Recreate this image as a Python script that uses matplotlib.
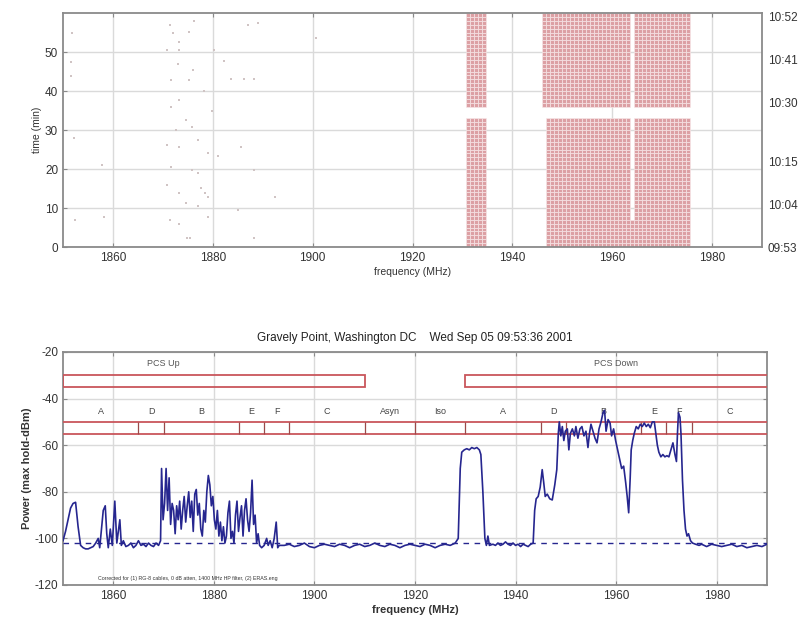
import matplotlib
matplotlib.use('Agg')
import matplotlib.pyplot as plt
import matplotlib.patches as mpatches
import numpy as np

plt.rcParams['font.family'] = ['Liberation Sans', 'DejaVu Sans']
plt.rcParams['axes.unicode_minus'] = False

# ---- top panel: occupancy blocks (freq lo, freq hi, time lo, time hi) ----
block_f_lo = [1931.0, 1931.0, 1946.5, 1946.5, 1964.2, 1946.3, 1964.2]
block_f_hi = [1934.8, 1934.8, 1975.2, 1963.2, 1975.2, 1963.2, 1975.2]
block_t_lo = [0.0, 36.5, 0.0, 7.0, 7.0, 36.5, 36.5]
block_t_hi = [32.5, 59.5, 7.0, 32.5, 32.5, 59.5, 59.5]
f_step = 0.8    # measurement resolution (MHz)
t_step = 1.0    # sweep interval (min)

# sparse detections (freq MHz, time min)
sparse_f = [1851.7, 1851.5, 1851.5, 1852.3, 1852.5, 1858.3, 1871.4, 1872.1, 1870.8,
            1873.3, 1875.3, 1876.3, 1873.3, 1873.0, 1876.0, 1871.6, 1875.3, 1873.3,
            1871.6, 1874.6, 1875.9, 1870.8, 1873.3, 1877.0, 1879.0, 1871.6, 1875.9,
            1877.0, 1870.8, 1873.3, 1877.7, 1879.0, 1874.6, 1877.0, 1871.4, 1873.3,
            1879.0, 1874.9, 1875.5, 1878.4, 1882.3, 1883.7, 1886.3, 1888.3, 1887.0,
            1889.0, 1885.7, 1888.3, 1885.0, 1892.5, 1888.3, 1881.0, 1880.3, 1900.7,
            1857.8, 1879.8, 1878.2, 1872.6]
sparse_t = [54.8, 47.5, 43.8, 27.9, 6.9, 7.8, 56.9, 54.8, 50.5,
            52.5, 55.2, 58.0, 50.5, 47.0, 45.4, 42.9, 42.9, 37.7,
            36.0, 32.6, 30.9, 26.2, 25.7, 27.5, 24.1, 20.6, 19.8,
            18.9, 15.8, 13.8, 15.1, 12.9, 11.2, 10.4, 6.9, 6.0,
            7.8, 2.2, 2.2, 13.8, 47.6, 43.0, 43.0, 43.0, 57.0,
            57.4, 25.7, 19.8, 9.5, 12.9, 2.2, 23.3, 50.5, 53.6,
            21.0, 35.0, 40.0, 30.0]

clock_pos = [0, 11, 22, 37, 48, 59]
clock_labels = ['09:53', '10:04', '10:15', '10:30', '10:41', '10:52']

# ---- bottom panel: max-hold spectrum ----
spec_f = [1850, 1850.5, 1851, 1851.5, 1852, 1852.5, 1853, 1853.5, 1854, 1854.5, 1855,
          1855.5, 1856, 1856.5, 1857, 1857.3, 1857.6, 1858, 1858.4, 1858.7, 1859, 1859.4,
          1859.8, 1860.3, 1860.7, 1861, 1861.3, 1861.6, 1862, 1862.5, 1863, 1863.5, 1864,
          1864.5, 1865, 1865.5, 1866, 1866.5, 1867, 1867.5, 1868, 1868.5, 1869, 1869.4,
          1869.6, 1869.9, 1870.2, 1870.5, 1870.8, 1871.1, 1871.4, 1871.7, 1872, 1872.3,
          1872.6, 1872.9, 1873.2, 1873.5, 1873.8, 1874.1, 1874.4, 1874.7, 1875, 1875.3,
          1875.6, 1875.9, 1876.2, 1876.5, 1876.8, 1877.1, 1877.4, 1877.7, 1878, 1878.3,
          1878.6, 1878.9, 1879.2, 1879.5, 1879.8, 1880.1, 1880.4, 1880.7, 1881, 1881.3,
          1881.6, 1881.9, 1882.2, 1882.5, 1882.8, 1883.1, 1883.4, 1883.7, 1884, 1884.3,
          1884.6, 1884.9, 1885.2, 1885.5, 1885.8, 1886.1, 1886.4, 1886.7, 1887, 1887.3,
          1887.6, 1887.9, 1888.2, 1888.5, 1888.8, 1889.1, 1889.5, 1890, 1890.5, 1890.8,
          1891.2, 1891.6, 1892, 1892.4, 1892.7, 1893,
          1894, 1895, 1896, 1897, 1898, 1899, 1900, 1901, 1902, 1903, 1904, 1905, 1906,
          1907, 1908, 1909, 1910, 1911, 1912, 1913, 1914, 1915, 1916, 1917, 1918, 1919,
          1920, 1921, 1922, 1923, 1924, 1925, 1926, 1927, 1928,
          1928.6, 1929, 1929.3, 1929.8, 1930.3, 1930.8, 1931.3, 1931.8, 1932.3, 1932.8,
          1933.1, 1933.5, 1933.9, 1934.2, 1934.5, 1934.8, 1935.5, 1936, 1936.5, 1937,
          1937.5, 1938, 1938.5, 1939, 1939.5, 1940, 1940.5, 1941, 1941.5, 1942, 1942.5,
          1943, 1943.5,
          1943.8, 1944.1, 1944.5, 1944.9, 1945.3, 1945.6, 1945.9, 1946.3, 1946.8, 1947.3,
          1947.8, 1948.2, 1948.5, 1948.7, 1949, 1949.3, 1949.6, 1949.9, 1950.3, 1950.6,
          1950.9, 1951.3, 1951.7, 1952, 1952.4, 1952.8, 1953.2, 1953.6, 1954, 1954.4,
          1954.7, 1955, 1955.4, 1955.8, 1956.2, 1956.6, 1957, 1957.4, 1957.7, 1958,
          1958.4, 1958.8, 1959.1, 1959.5, 1959.9, 1960.3, 1960.7, 1961.1, 1961.5, 1961.9,
          1962.2, 1962.5, 1962.8, 1963, 1963.3, 1963.6, 1964, 1964.4, 1964.8, 1965.2,
          1965.6, 1966, 1966.4, 1966.8, 1967.2, 1967.6, 1967.9, 1968.2, 1968.5, 1968.9,
          1969.3, 1969.7, 1970.1, 1970.5, 1970.9, 1971.3, 1971.7, 1972, 1972.2, 1972.4,
          1972.7, 1972.9, 1973.2, 1973.5, 1973.8, 1974.1, 1974.4, 1974.8,
          1975.2, 1975.8, 1976.5, 1977, 1977.5, 1978, 1978.5, 1979, 1980, 1981, 1982,
          1983, 1984, 1985, 1986, 1987, 1988, 1989, 1990]
spec_p = [-101, -97, -92, -87, -85, -84.5, -95, -103, -104, -104.5, -104.5,
          -104, -103.5, -102, -100, -104, -97, -88, -86, -98, -104, -96,
          -103, -84, -102, -97, -92, -103, -101, -103.5, -103, -102, -104,
          -103, -101, -103, -102.5, -103.5, -102, -103, -103.5, -102, -103, -101,
          -70, -92, -85, -70, -88, -74, -94, -85, -88, -98,
          -86, -92, -84, -96, -88, -82, -93, -86, -80, -91,
          -84, -97, -81, -79, -90, -85, -96, -99, -88, -93,
          -80, -73, -77, -86, -82, -92, -96, -88, -99, -93,
          -101, -95, -102, -99, -89, -84, -100, -97, -102, -90,
          -84, -97, -91, -86, -99, -88, -83, -92, -97, -89,
          -75, -94, -90, -102, -98, -103, -104, -103, -100, -103,
          -101, -104, -100, -93, -104, -103,
          -103, -102.5, -103.5, -103, -102, -103.5, -104, -103, -102.5, -103, -103.5, -102.5, -103,
          -104, -103, -102.5, -103.5, -103, -102, -103, -103.5, -102.5, -103, -104, -103, -102.5,
          -103, -103.5, -102.5, -103, -104, -103, -102.5, -103, -102,
          -100, -70, -63, -62, -61.5, -62, -61, -61.5, -61, -62,
          -64, -80, -100, -103, -99, -103, -102.5, -103, -102, -103,
          -102.5, -101.5, -102.5, -103, -102, -103, -102.5, -103.5, -102.5, -103, -103.5,
          -102.5, -102,
          -88, -83, -82, -78, -70.5, -76, -82, -81, -83, -83.5,
          -77, -70.5, -55, -50, -56, -52, -58, -54, -53, -62,
          -55, -53, -56, -52, -57, -53, -52, -56, -54, -61,
          -55, -51, -54, -57, -59, -53, -50, -46, -45, -54,
          -49, -50.5, -56, -53, -58, -62, -66, -70, -69, -76,
          -82, -89, -74, -62, -58, -55, -52, -53, -51, -52,
          -50.5, -52, -51, -52.5, -50, -50, -55, -60, -63, -65,
          -64, -65, -64.5, -65, -62, -59, -64, -67, -55, -46,
          -48, -55, -75, -88, -96, -99, -98, -101,
          -102, -102.5, -103, -102.5, -103, -103.5, -103, -102.5, -103, -103.5, -103,
          -102.5, -103.5, -103, -104, -103.5, -103, -103.5, -102.5]
noise_floor = -102

# band plan
band_edges = [1865, 1870, 1885, 1890, 1895, 1910, 1920, 1930, 1945, 1950, 1965, 1970, 1975]
band_names = ['A', 'D', 'B', 'E', 'F', 'C', 'Asyn', 'Iso', 'A', 'D', 'B', 'E', 'F', 'C']
band_centers = [1857.5, 1867.5, 1877.5, 1887.5, 1892.5, 1902.5, 1915, 1925,
                1937.5, 1947.5, 1957.5, 1967.5, 1972.5, 1982.5]
pcs_names = ['PCS Up', 'PCS Down']
pcs_lo = [1850, 1930]
pcs_hi = [1910, 1995]
pcs_centers = [1870, 1960]

red = '#c9565c'
blue = '#26268f'
grid_c = '#dadada'
spine_c = '#8a8a8a'
txt_c = '#333333'

fig = plt.figure(figsize=(8.11, 6.26), dpi=100)
fig.patch.set_facecolor('white')


def style(ax):
    for s in ax.spines.values():
        s.set_color(spine_c)
        s.set_linewidth(1.3)
    ax.grid(True, color=grid_c, linewidth=1.0)
    ax.set_axisbelow(True)
    ax.tick_params(direction='in', length=3, color=spine_c, labelsize=8.5,
                   labelcolor=txt_c, top=True, right=True)


# ---------- top panel ----------
ax1 = fig.add_axes([0.0777, 0.6054, 0.862, 0.3738])
style(ax1)
# occupancy on the measurement grid (cell centres)
fc = np.arange(1850 + f_step / 2, 1990, f_step)
tc = np.arange(t_step / 2, 60, t_step)
FF, TT = np.meshgrid(fc, tc)
occ = np.zeros_like(FF, dtype=bool)
for flo, fhi, tlo, thi in zip(block_f_lo, block_f_hi, block_t_lo, block_t_hi):
    occ |= (FF >= flo) & (FF <= fhi) & (TT >= tlo) & (TT <= thi)
ax1.bar(FF[occ], t_step, width=f_step, bottom=TT[occ] - t_step / 2,
        color='#dca0a4', edgecolor='#f8e8e9', linewidth=0.45, zorder=2)
ax1.scatter(sparse_f, sparse_t, marker='s', s=1.5, color='#d0c4c4', linewidths=0, zorder=2)
ax1.set_xlim(1850, 1990)
ax1.set_ylim(0, 60)
ax1.set_xticks([1860, 1880, 1900, 1920, 1940, 1960, 1980])
ax1.set_yticks([0, 10, 20, 30, 40, 50])
ax1.set_xlabel('frequency (MHz)', fontsize=7.5, color=txt_c, labelpad=2)
ax1.set_ylabel('time (min)', fontsize=7.5, color=txt_c, labelpad=2)

ax1r = ax1.twinx()
ax1r.set_ylim(0, 60)
ax1r.set_yticks(clock_pos)
ax1r.set_yticklabels(clock_labels)
ax1r.tick_params(length=0, labelsize=8.5, labelcolor=txt_c, pad=4)
for s in ax1r.spines.values():
    s.set_visible(False)

# ---------- bottom panel ----------
ax2 = fig.add_axes([0.0777, 0.0655, 0.868, 0.3722])
style(ax2)
ax2.set_xlim(1850, 1990)
ax2.set_ylim(-120, -20)
ax2.set_xticks([1860, 1880, 1900, 1920, 1940, 1960, 1980])
ax2.set_yticks([-120, -100, -80, -60, -40, -20])

# PCS boxes
for name, lo, hi, c in zip(pcs_names, pcs_lo, pcs_hi, pcs_centers):
    ax2.add_patch(mpatches.Rectangle((lo, -35), hi - lo, 5, fill=False,
                                     edgecolor=red, linewidth=1.3, zorder=3))
    ax2.text(c, -25, name, ha='center', va='center', fontsize=6.5, color='#555555')

# block row
ax2.add_patch(mpatches.Rectangle((1845, -55), 150, 5, fill=False,
                                 edgecolor=red, linewidth=1.3, zorder=3))
ax2.vlines(band_edges, -55, -50, color='#9a4a4a', linewidth=0.9, zorder=3)
for name, c in zip(band_names, band_centers):
    ax2.text(c, -45.5, name, ha='center', va='center', fontsize=6.5, color='#444444')

ax2.axhline(noise_floor, color=blue, linewidth=1.0, linestyle=(0, (4, 4)), zorder=3)
ax2.plot(spec_f, spec_p, color=blue, linewidth=1.2, zorder=4)

ax2.text(1857, -118.2, 'Corrected for (1) RG-8 cables, 0 dB atten, 1400 MHz HP filter, (2) ERAS.eng',
         fontsize=3.8, color='#333333', va='bottom')

ax2.set_title('Gravely Point, Washington DC    Wed Sep 05 09:53:36 2001',
              fontsize=8.5, color='#222222', pad=8)
ax2.set_xlabel('frequency (MHz)', fontsize=8, color=txt_c, fontweight='bold', labelpad=2)
ax2.set_ylabel('Power (max hold-dBm)', fontsize=8, color=txt_c, fontweight='bold', labelpad=2)

plt.savefig('out.png', dpi=100, facecolor='white')
plt.close()
